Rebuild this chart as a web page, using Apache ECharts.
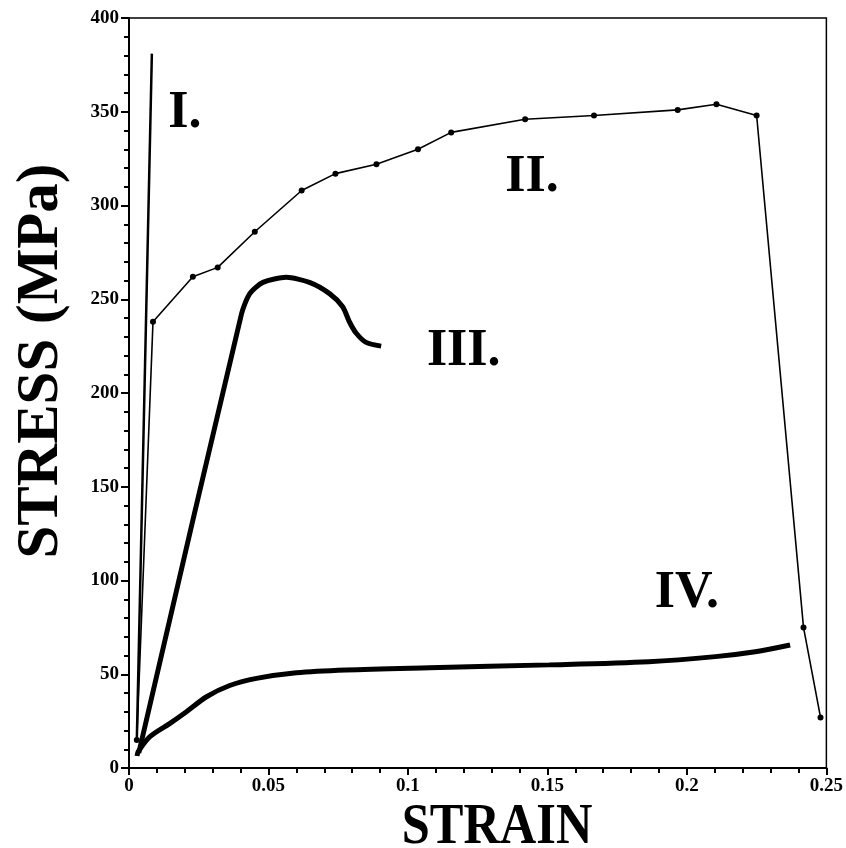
<!DOCTYPE html>
<html>
<head>
<meta charset="utf-8">
<script src="https://cdn.jsdelivr.net/npm/echarts@6/dist/echarts.min.js"></script>
<style>
  html, body { margin: 0; padding: 0; background: #fff; }
  #main { width: 846px; height: 848px; }
</style>
</head>
<body>
<div id="main"></div>
<script>
// 数据
const strainI = [0.0028, 0.0082];
const stressI = [15, 381];

const strainII = [0.0028, 0.0086, 0.0229, 0.0318, 0.0451, 0.0619, 0.0740, 0.0887, 0.1036, 0.1155, 0.1420, 0.1667, 0.1967, 0.2106, 0.2250, 0.2418, 0.2479];
const stressII = [15, 238, 262, 267, 286, 308, 317, 322, 330, 339, 346, 348, 351, 354, 348, 75, 27];

const strainIII = [0.0035, 0.0403, 0.0433, 0.0480, 0.0564, 0.0647, 0.0719, 0.0766, 0.0790, 0.0814, 0.0850, 0.0904];
const stressIII = [8, 242, 253, 259, 261.7, 259, 253, 246, 238, 232, 227, 225];

const strainIV = [0.0029, 0.0033, 0.0075, 0.0147, 0.0206, 0.0278, 0.0361, 0.0457, 0.0600, 0.0778, 0.1077, 0.1506, 0.1863, 0.2102, 0.2245, 0.2370];
const stressIV = [6.4, 8.7, 16.7, 23.8, 30, 38, 44, 47.8, 50.8, 52.3, 53.5, 55, 56.7, 59.4, 62, 65.6];

// 曲线编号标注
const labelText = ['I.', 'II.', 'III.', 'IV.'];
const labelStrain = [0.020, 0.1445, 0.120, 0.200];
const labelStress = [349, 315, 222, 93];

const xTicks = [0, 0.05, 0.1, 0.15, 0.2, 0.25];

function zip(xs, ys) {
    return xs.map((x, i) => [x, ys[i]]);
}

var myChart = echarts.init(document.getElementById('main'));
const serif = 'Liberation Serif';

option = {
    animation: false,
    grid: {
        left: 129,
        right: 18,
        top: 18,
        bottom: 80,
        show: true,
        borderColor: '#000',
        borderWidth: 1.5
    },
    xAxis: {
        type: 'value',
        min: 0,
        max: 0.25,
        interval: 0.05,
        axisLine: { lineStyle: { color: '#000', width: 2 } },
        axisTick: { length: 7, lineStyle: { color: '#000', width: 2 } },
        minorTick: { show: true, splitNumber: 5, length: 5, lineStyle: { color: '#000', width: 2 } },
        splitLine: { show: false },
        axisLabel: {
            color: '#000', fontFamily: serif, fontWeight: 'bold', fontSize: 19, margin: 9,
            formatter: v => String(xTicks.find(t => Math.abs(t - v) < 1e-9) ?? v)
        }
    },
    yAxis: {
        type: 'value',
        min: 0,
        max: 400,
        interval: 50,
        axisLine: { lineStyle: { color: '#000', width: 2 } },
        axisTick: { length: 8, lineStyle: { color: '#000', width: 2 } },
        minorTick: { show: true, splitNumber: 5, length: 5, lineStyle: { color: '#000', width: 2 } },
        splitLine: { show: false },
        axisLabel: { color: '#000', fontFamily: serif, fontWeight: 'bold', fontSize: 19, margin: 10 }
    },
    graphic: [
        {
            type: 'text',
            x: 497, y: 828,
            scaleX: 0.87,
            style: {
                text: 'STRAIN', fill: '#000', font: 'bold 58px "Liberation Serif"',
                textAlign: 'center', textVerticalAlign: 'middle'
            }
        },
        {
            type: 'text',
            x: 42, y: 361,
            rotation: Math.PI / 2,
            style: {
                text: 'STRESS (MPa)', fill: '#000', font: 'bold 59px "Liberation Serif"',
                textAlign: 'center', textVerticalAlign: 'middle'
            }
        }
    ],
    series: [
        {
            name: 'I', type: 'line', data: zip(strainI, stressI),
            showSymbol: false, lineStyle: { color: '#000', width: 2.5 }
        },
        {
            name: 'II', type: 'line', data: zip(strainII, stressII),
            symbol: 'circle', symbolSize: 6, showSymbol: true,
            itemStyle: { color: '#000' },
            lineStyle: { color: '#000', width: 1.6 }
        },
        {
            name: 'III', type: 'line', data: zip(strainIII, stressIII),
            showSymbol: false, smooth: 0.25, lineStyle: { color: '#000', width: 5 }
        },
        {
            name: 'IV', type: 'line', data: zip(strainIV, stressIV),
            showSymbol: false, smooth: 0.3, lineStyle: { color: '#000', width: 5 }
        },
        {
            name: 'labels', type: 'scatter', symbolSize: 0,
            itemStyle: { color: '#000', opacity: 1 },
            data: labelText.map((t, i) => ({ name: t, value: [labelStrain[i], labelStress[i]] })),
            label: {
                show: true, position: 'inside', formatter: p => p.name,
                color: '#000', opacity: 1, fontFamily: serif, fontWeight: 'bold', fontSize: 52
            },
            silent: true
        }
    ]
};
myChart.setOption(option);
</script>
</body>
</html>
